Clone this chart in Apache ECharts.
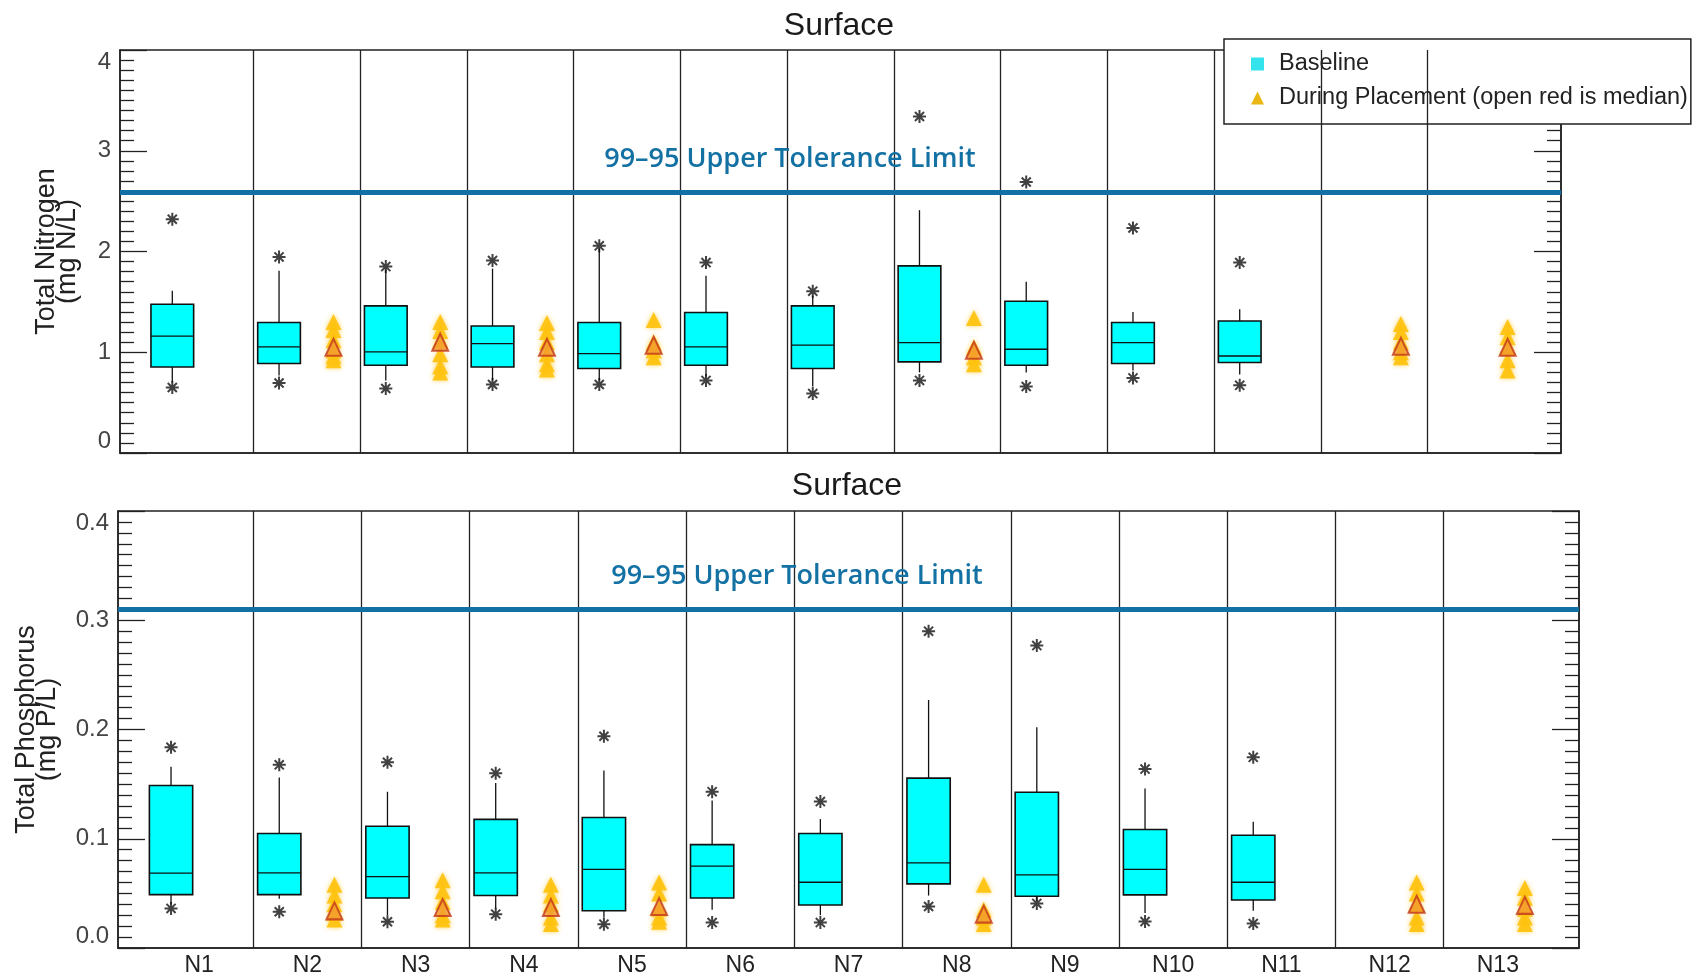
<!DOCTYPE html>
<html>
<head>
<meta charset="utf-8">
<script src="https://cdn.jsdelivr.net/npm/echarts@6/dist/echarts.min.js"></script>
<style>
  html, body { margin: 0; padding: 0; background: #fff; }
  #chart { width: 1698px; height: 977px; }
</style>
</head>
<body>
<div id="chart"></div>
<script>
// stations along the transect
const stations = ['N1', 'N2', 'N3', 'N4', 'N5', 'N6', 'N7', 'N8', 'N9', 'N10', 'N11', 'N12', 'N13'];

// Total nitrogen, baseline boxes: [station no, low whisker, Q1, median, Q3, high whisker]
const tnBox = [
  [1, 0.70, 0.854, 1.16, 1.477, 1.61],
  [2, 0.77, 0.888, 1.053, 1.295, 1.81],
  [3, 0.72, 0.871, 1.003, 1.46, 1.82],
  [4, 0.72, 0.854, 1.086, 1.26, 1.83],
  [5, 0.72, 0.838, 0.987, 1.295, 2.03],
  [6, 0.76, 0.871, 1.053, 1.394, 1.76],
  [7, 0.66, 0.838, 1.07, 1.46, 1.56],
  [8, 0.80, 0.904, 1.096, 1.857, 2.41],
  [9, 0.80, 0.871, 1.03, 1.506, 1.70],
  [10, 0.82, 0.888, 1.096, 1.295, 1.40],
  [11, 0.78, 0.898, 0.963, 1.31, 1.427]
];
// baseline outliers (asterisks): [station no, value]
const tnOutliers = [
  [1, 0.65], [1, 2.32], [2, 0.695], [2, 1.946], [3, 0.64], [3, 1.85],
  [4, 0.68], [4, 1.91], [5, 0.68], [5, 2.056], [6, 0.72], [6, 1.89],
  [7, 0.59], [7, 1.606], [8, 0.72], [8, 3.34], [9, 0.66], [9, 2.69],
  [10, 0.745], [10, 2.234], [11, 0.672], [11, 1.89]
];
// during placement samples: [station no, value]
const tnPlacement = [
  [2, 1.30], [2, 1.22], [2, 1.12], [2, 1.02], [2, 0.96], [2, 0.92],
  [3, 1.30], [3, 1.21], [3, 1.12], [3, 0.98], [3, 0.86], [3, 0.80],
  [4, 1.29], [4, 1.20], [4, 1.10], [4, 0.98], [4, 0.88], [4, 0.83],
  [5, 1.32], [5, 1.10], [5, 1.02], [5, 0.95],
  [8, 1.34], [8, 1.05], [8, 0.95], [8, 0.88],
  [12, 1.28], [12, 1.20], [12, 1.10], [12, 1.00], [12, 0.95],
  [13, 1.25], [13, 1.15], [13, 1.05], [13, 0.92], [13, 0.82]
];
const tnPlacementMedian = [[2, 1.05], [3, 1.10], [4, 1.05], [5, 1.07], [8, 1.02], [12, 1.06], [13, 1.05]];
const tnLimit = 2.59;

// Total phosphorus, same layout
const tpBox = [
  [1, 0.040, 0.0489, 0.0685, 0.1487, 0.166],
  [2, 0.045, 0.0489, 0.0688, 0.1048, 0.156],
  [3, 0.030, 0.0458, 0.0654, 0.1115, 0.143],
  [4, 0.036, 0.048, 0.0688, 0.1177, 0.151],
  [5, 0.028, 0.0341, 0.0719, 0.1195, 0.1625],
  [6, 0.035, 0.0458, 0.075, 0.0946, 0.135],
  [7, 0.030, 0.0393, 0.0602, 0.1048, 0.118],
  [8, 0.048, 0.0587, 0.078, 0.1555, 0.227],
  [9, 0.043, 0.0473, 0.067, 0.1426, 0.202],
  [10, 0.032, 0.0486, 0.0719, 0.1085, 0.146],
  [11, 0.034, 0.044, 0.0602, 0.1032, 0.1155]
];
const tpOutliers = [
  [1, 0.0362], [1, 0.1837], [2, 0.0332], [2, 0.1677], [3, 0.024], [3, 0.170],
  [4, 0.031], [4, 0.160], [5, 0.0218], [5, 0.1938], [6, 0.0233], [6, 0.1431],
  [7, 0.0233], [7, 0.134], [8, 0.038], [8, 0.290], [9, 0.0408], [9, 0.2768],
  [10, 0.0242], [10, 0.1638], [11, 0.0224], [11, 0.1745]
];
const tpPlacement = [
  [2, 0.058], [2, 0.048], [2, 0.040], [2, 0.032], [2, 0.026],
  [3, 0.062], [3, 0.052], [3, 0.042], [3, 0.030], [3, 0.026],
  [4, 0.058], [4, 0.048], [4, 0.040], [4, 0.028], [4, 0.022],
  [5, 0.060], [5, 0.050], [5, 0.036], [5, 0.028], [5, 0.024],
  [8, 0.058], [8, 0.035], [8, 0.028], [8, 0.022],
  [12, 0.060], [12, 0.050], [12, 0.040], [12, 0.028], [12, 0.022],
  [13, 0.055], [13, 0.046], [13, 0.036], [13, 0.028], [13, 0.022]
];
const tpPlacementMedian = [[2, 0.034], [3, 0.037], [4, 0.037], [5, 0.038], [8, 0.031], [12, 0.040], [13, 0.039]];
const tpLimit = 0.309;

const FONT = "'Liberation Sans', Arial, sans-serif";
const BOX_SHIFT = -0.26;   // baseline sits left of the station centre
const TRI_SHIFT = 0.25;    // placement sits right of it
const BOX_W = 0.4;
const PLACE_NAME = 'During Placement (open red is median)';
const STAR = 'path://M0 -10L0 10M-10 0L10 0M-7 -7L7 7M-7 7L7 -7';

const separators = stations.slice(1).map((s, i) => i + 1.5);

function renderBox(params, api) {
  const x = api.value(0);
  const lw = api.coord([x, api.value(1)]);
  const q1 = api.coord([x, api.value(2)]);
  const md = api.coord([x, api.value(3)]);
  const q3 = api.coord([x, api.value(4)]);
  const uw = api.coord([x, api.value(5)]);
  const w = api.size([BOX_W, 0])[0];
  const ls = { stroke: '#111', lineWidth: 1.3 };
  return {
    type: 'group',
    children: [
      { type: 'line', shape: { x1: uw[0], y1: uw[1], x2: q3[0], y2: q3[1] }, style: ls },
      { type: 'line', shape: { x1: lw[0], y1: lw[1], x2: q1[0], y2: q1[1] }, style: ls },
      { type: 'rect', shape: { x: q3[0] - w / 2, y: q3[1], width: w, height: q1[1] - q3[1] },
        style: { fill: '#00FFFF', stroke: '#111', lineWidth: 1.6 } },
      { type: 'line', shape: { x1: md[0] - w / 2, y1: md[1], x2: md[0] + w / 2, y2: md[1] }, style: ls }
    ]
  };
}

function panelSeries(idx, box, outliers, place, median, limit) {
  return [
    {
      name: 'Baseline', type: 'custom', xAxisIndex: idx, yAxisIndex: idx * 2,
      renderItem: renderBox, itemStyle: { color: '#33E4EC' },
      encode: { x: 0, y: [1, 2, 3, 4, 5] },
      data: box.map(r => [r[0] + BOX_SHIFT, r[1], r[2], r[3], r[4], r[5]]),
      z: 3
    },
    {
      name: 'outliers', type: 'scatter', xAxisIndex: idx, yAxisIndex: idx * 2,
      symbol: STAR, symbolSize: 13,
      itemStyle: { color: 'rgba(0,0,0,0)', borderColor: '#111', borderWidth: 2 },
      data: outliers.map(r => [r[0] + BOX_SHIFT, r[1]]),
      z: 4
    },
    {
      name: PLACE_NAME, type: 'scatter', xAxisIndex: idx, yAxisIndex: idx * 2,
      symbol: 'triangle', symbolSize: [16, 16],
      itemStyle: { color: '#FFC20E', opacity: 0.92, shadowBlur: 5, shadowColor: 'rgba(255,200,40,0.8)' },
      data: place.map(r => [r[0] + TRI_SHIFT, r[1]]),
      z: 4,
      markLine: {
        silent: true, symbol: 'none', animation: false,
        label: { show: false },
        data: separators.map(x => ({ xAxis: x, lineStyle: { color: '#222', width: 1.3, type: 'solid' } }))
          .concat([{ yAxis: limit, lineStyle: { color: '#1270A4', width: 5, type: 'solid' } }])
      }
    },
    {
      name: 'median', type: 'scatter', xAxisIndex: idx, yAxisIndex: idx * 2,
      symbol: 'triangle', symbolSize: [16, 17],
      itemStyle: { color: '#F39A30', borderColor: '#C2361C', borderWidth: 2 },
      data: median.map(r => [r[0] + TRI_SHIFT, r[1]]),
      z: 5
    }
  ];
}

function yPair(idx, max, interval, name, nameGap, fmt) {
  const tick = { lineStyle: { color: '#222', width: 1.3 } };
  const base = {
    type: 'value', gridIndex: idx, min: 0, max: max, interval: interval,
    axisLine: { show: true, lineStyle: { color: '#222', width: 1.5 } },
    axisTick: Object.assign({ show: true, inside: true, length: 27 }, tick),
    minorTick: Object.assign({ show: true, splitNumber: 10, length: 14 }, tick),
    splitLine: { show: false }, minorSplitLine: { show: false }
  };
  return [
    Object.assign({}, base, {
      position: 'left',
      axisLabel: { fontSize: 24, color: '#444', margin: 9, fontFamily: FONT, formatter: fmt,
        verticalAlignMaxLabel: 'top', verticalAlignMinLabel: 'bottom' },
      name: name, nameLocation: 'middle', nameGap: nameGap, nameRotate: 90,
      nameTextStyle: { fontSize: 27, lineHeight: 21, color: '#222', fontFamily: FONT }
    }),
    Object.assign({}, base, { position: 'right', axisLabel: { show: false } })
  ];
}

function textItem(x, y, text, style) {
  return {
    type: 'text', x: x, y: y, z: 100,
    style: Object.assign({ text: text, align: 'center', verticalAlign: 'middle',
      textAlign: 'center', textVerticalAlign: 'middle' }, style)
  };
}

const chart = echarts.init(document.getElementById('chart'));
const option = {
  animation: false,
  backgroundColor: '#fff',
  grid: [
    { left: 120, top: 50, width: 1441, height: 403, show: true, borderColor: '#222', borderWidth: 1.5 },
    { left: 118, top: 511, width: 1461, height: 437, show: true, borderColor: '#222', borderWidth: 1.5 }
  ],
  xAxis: [
    { type: 'value', gridIndex: 0, min: 0.25, max: 13.75,
      axisLine: { show: true, lineStyle: { color: '#222', width: 1.5 } },
      axisTick: { show: false }, axisLabel: { show: false }, splitLine: { show: false } },
    { type: 'value', gridIndex: 1, min: 0.25, max: 13.75,
      axisLine: { show: true, lineStyle: { color: '#222', width: 1.5 } },
      axisTick: { show: false }, splitLine: { show: false },
      axisLabel: { show: true, customValues: stations.map((s, i) => i + 1),
        formatter: v => stations[Math.round(v) - 1], fontSize: 23, color: '#222',
        fontFamily: FONT, margin: 6 } }
  ],
  yAxis: yPair(0, 4, 1, 'Total Nitrogen\n(mg N/L)', 42, v => String(v))
    .concat(yPair(1, 0.4, 0.1, 'Total Phosphorus\n(mg P/L)', 60, v => v.toFixed(1))),
  legend: {
    left: 1224, top: 39, orient: 'vertical',
    padding: [13, 3, 14, 27],
    itemWidth: 13, itemHeight: 13, itemGap: 10,
    backgroundColor: '#fff', borderColor: '#222', borderWidth: 1.5,
    selectedMode: false,
    textStyle: { fontSize: 23.5, color: '#222', fontFamily: FONT, padding: [0, 0, 0, 10] },
    data: [
      { name: 'Baseline', icon: 'rect' },
      { name: PLACE_NAME, icon: 'triangle', itemStyle: { color: '#E8B000' } }
    ]
  },
  graphic: [
    textItem(839, 26, 'Surface', { font: "32px " + FONT, fill: '#1a1a1a' }),
    textItem(847, 486, 'Surface', { font: "32px " + FONT, fill: '#1a1a1a' }),
    textItem(790, 159, '99\u201395 Upper Tolerance Limit', { font: "600 27px 'Open Sans', sans-serif", fill: '#1371A3' }),
    textItem(797, 576, '99\u201395 Upper Tolerance Limit', { font: "600 27px 'Open Sans', sans-serif", fill: '#1371A3' })
  ],
  series: panelSeries(0, tnBox, tnOutliers, tnPlacement, tnPlacementMedian, tnLimit)
    .concat(panelSeries(1, tpBox, tpOutliers, tpPlacement, tpPlacementMedian, tpLimit))
};
chart.setOption(option);
</script>
</body>
</html>
